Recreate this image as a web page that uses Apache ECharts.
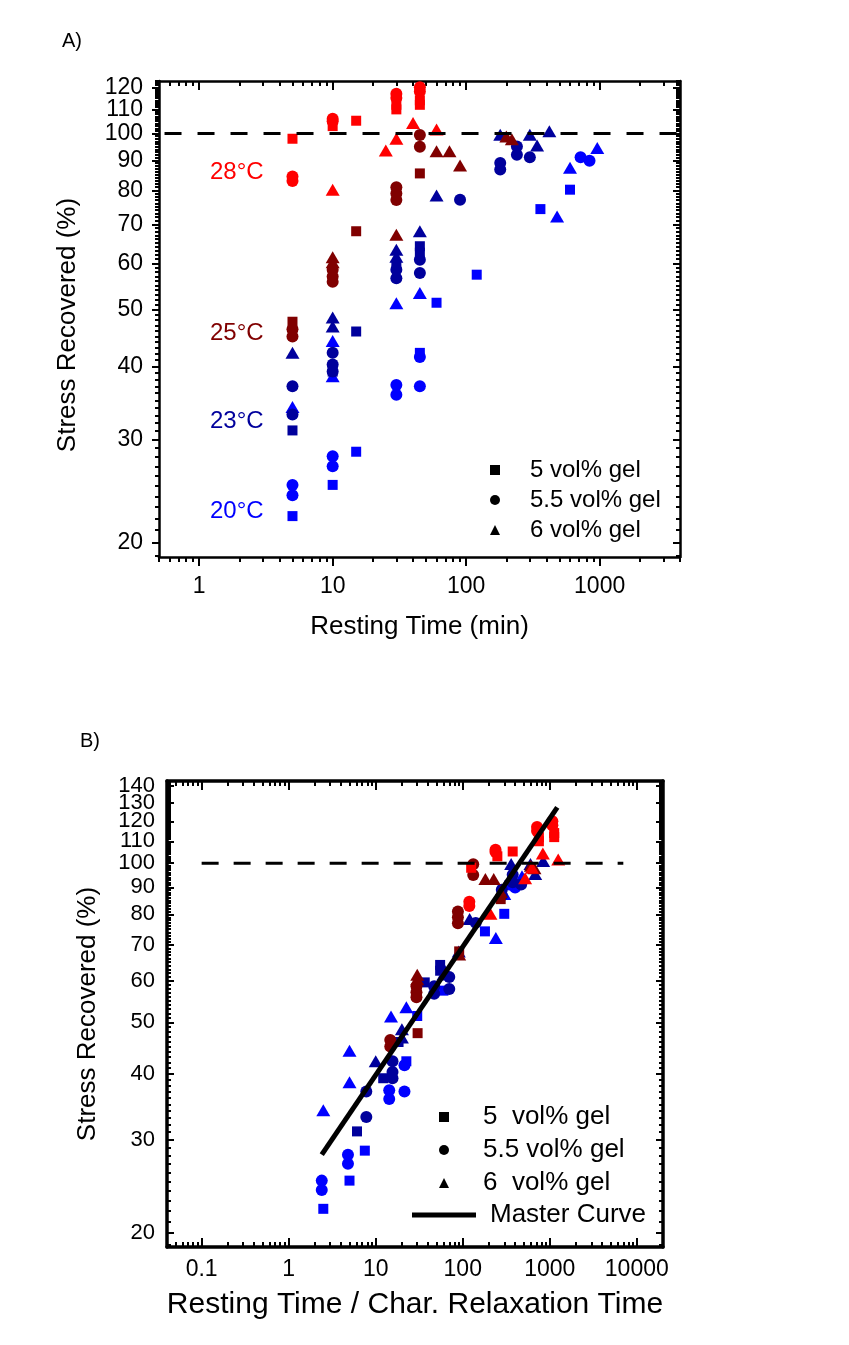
<!DOCTYPE html>
<html>
<head>
<meta charset="utf-8">
<script src="https://cdn.jsdelivr.net/npm/echarts@6/dist/echarts.min.js"></script>
<style>
html, body { margin: 0; padding: 0; background: #fff; }
#main { width: 849px; height: 1345px; }
</style>
</head>
<body>
<div id="main"></div>
<script>
// t = resting time (min), v = stress recovered (%), r = resting time / char. relaxation time
// 20 °C
var t20Sq = [5, 10, 15, 45, 60, 120, 360, 600];
var v20Sq = [22.2, 25.1, 28.6, 42.2, 51.4, 57.4, 74.3, 80.2];
var r20Sq = [2.5, 5, 7.5, 22.5, 30, 60, 180, 300];
var t20Ci = [5, 5, 10, 10, 30, 30, 45, 45, 720, 840];
var v20Ci = [25.1, 24.1, 28.1, 27.0, 37.2, 35.8, 41.5, 37.0, 91.1, 89.9];
var r20Ci = [2.4, 2.4, 4.8, 4.8, 14.3, 14.3, 21.4, 21.4, 343, 400];
var t20Tr = [5, 10, 10, 30, 45, 480, 600, 960];
var v20Tr = [34.1, 44.2, 38.5, 51.3, 53.4, 72.2, 87.4, 94.5];
var r20Tr = [2.5, 5, 5, 15, 22.5, 240, 300, 480];
// 23 °C
var t23Sq = [5, 10, 15, 30, 45, 45];
var v23Sq = [31.1, 39.2, 45.9, 59.5, 64.2, 62.6];
var r23Sq = [6.1, 12.2, 18.3, 36.6, 55, 55];
var t23Ci = [5, 5, 10, 10, 10, 30, 30, 45, 45, 90, 180, 180, 240, 240, 300];
var v23Ci = [37.0, 33.1, 42.2, 40.3, 39.2, 58.5, 56.6, 60.9, 57.8, 77.1, 89.1, 86.8, 95.1, 92.0, 91.1];
var r23Ci = [7.8, 7.8, 15.6, 15.6, 15.6, 47, 47, 70, 70, 141, 281, 281, 375, 375, 469];
var t23Tr = [5, 10, 10, 30, 30, 45, 60, 180, 300, 340, 420];
var v23Tr = [42.2, 48.5, 46.8, 63.3, 61.6, 68.1, 78.4, 99.6, 99.6, 95.4, 100.9];
var r23Tr = [10, 20, 20, 60, 60, 90, 120, 360, 600, 680, 840];
// 25 °C
var t25Sq = [5, 15, 45];
var v25Sq = [47.7, 68.1, 85.5];
var r25Sq = [30.3, 91, 273];
var t25Ci = [5, 5, 10, 10, 10, 30, 30, 30, 45, 45];
var v25Ci = [46.3, 45.0, 58.5, 57.0, 55.8, 81.0, 79.0, 77.0, 99.5, 95.0];
var r25Ci = [14.7, 14.7, 29.4, 29.4, 29.4, 88, 88, 88, 132, 132];
var t25Tr = [10, 10, 30, 60, 75, 90, 200, 220];
var v25Tr = [61.5, 60.3, 67.2, 93.3, 93.3, 88.2, 98.9, 97.8];
var r25Tr = [30, 30, 91, 182, 227, 273, 606, 667];
// 28 °C
var t28Sq = [5, 10, 15, 30, 30, 45, 45];
var v28Sq = [98.0, 103.0, 105.2, 112.0, 110.0, 114.0, 112.0];
var r28Sq = [125, 250, 375, 750, 750, 1125, 1125];
var t28Ci = [5, 5, 10, 10, 30, 30, 45, 45];
var v28Ci = [84.5, 83.0, 106.0, 105.0, 117.0, 115.0, 120.0, 118.0];
var r28Ci = [119, 119, 238, 238, 714, 714, 1071, 1071];
var t28Tr = [10, 25, 30, 40, 60];
var v28Tr = [80.2, 93.6, 98.0, 104.3, 101.6];
var r28Tr = [208, 521, 625, 833, 1250];

// master curve and 100 % reference
var masterX = [2.4, 1220];
var masterY = [28.1, 127.5];
var refXA = [0.55, 4000];
var refXB = [0.1, 7000];
var refY = [100, 100];

// tick labels
var xTickA = [1, 10, 100, 1000];
var yTickA = [20, 30, 40, 50, 60, 70, 80, 90, 100, 110, 120];
var xTickB = [0.1, 1, 10, 100, 1000, 10000];
var yTickB = [20, 30, 40, 50, 60, 70, 80, 90, 100, 110, 120, 130, 140];

var legendA = ['5 vol% gel', '5.5 vol% gel', '6 vol% gel'];
var legendB = ['5  vol% gel', '5.5 vol% gel ', '6  vol% gel'];

var FONT = 'Liberation Sans, Arial, sans-serif';
var RED = '#ff0000', MAROON = '#800000', NAVY = '#00009c', BLUE = '#0000ff';

function logMinor(lo, hi) {
    var out = [];
    for (var e = -3; e <= 5; e++) {
        for (var m = 2; m <= 9; m++) {
            var v = +(m * Math.pow(10, e)).toPrecision(6);
            if (v >= lo && v <= hi) out.push(v);
        }
    }
    return out;
}
function unitMinor(lo, hi) {
    var out = [];
    for (var v = Math.ceil(lo); v <= hi; v++) {
        if (v % 10 !== 0) out.push(v);
    }
    return out;
}
function fmt(v) { return String(+(+v).toPrecision(6)); }

// four overlaid axes per side pair: main (labels), main minor, mirror, mirror minor
// labels listed in s.split go on the minor axis so the crowded top labels are not dropped
function axes(grid, lo, hi, major, minor, s) {
    var pos = s.dim === 'x' ? ['bottom', 'top'] : ['left', 'right'];
    var split = s.split || [];
    var mainLabels = major.filter(function (v) { return split.indexOf(v) < 0; });
    function label(values) {
        return { show: true, customValues: values, margin: s.margin, color: '#000',
                 showMinLabel: true, showMaxLabel: true, hideOverlap: false,
                 fontSize: s.fontSize, fontFamily: FONT, formatter: fmt };
    }
    function one(p, isMain, ticks, len, inside, labels, withName) {
        var a = {
            type: 'log', logBase: 10, gridIndex: grid, position: p, offset: 0,
            min: lo, max: hi, silent: true,
            axisLine: { show: isMain, onZero: false, lineStyle: { color: '#000', width: s.lineW } },
            axisTick: { show: true, inside: inside, length: len, customValues: ticks,
                        lineStyle: { color: '#000', width: s.tickW } },
            axisLabel: labels && labels.length ? label(labels) : { show: false },
            splitLine: { show: false },
            minorTick: { show: false },
            minorSplitLine: { show: false },
            axisPointer: { show: false }
        };
        if (withName) {
            a.name = s.name;
            a.nameLocation = 'middle';
            a.nameGap = s.nameGap;
            a.nameTextStyle = { color: '#000', fontSize: s.nameSize, fontFamily: FONT,
                                padding: s.namePad || 0 };
        }
        return a;
    }
    return [
        one(pos[0], true, major, s.majorLen, s.inside, mainLabels, true),
        one(pos[0], false, minor, s.minorLen, s.minorInside, split, false),
        one(pos[1], true, major, s.majorLen, true, null, false),
        one(pos[1], false, minor, s.minorLen, true, null, false)
    ];
}

var xAxes = [].concat(
    axes(0, 0.5, 4000, xTickA, logMinor(0.5, 4000),
        { dim: 'x', lineW: 2.5, tickW: 2, majorLen: 9, minorLen: 5, inside: false, minorInside: false,
          margin: 18, fontSize: 23, name: 'Resting Time (min)', nameGap: 57, nameSize: 26 }),
    axes(1, 0.04, 20000, xTickB, logMinor(0.04, 20000),
        { dim: 'x', lineW: 3.5, tickW: 2, majorLen: 9, minorLen: 5, inside: true, minorInside: true,
          margin: 11, fontSize: 23, name: 'Resting Time / Char. Relaxation Time', nameGap: 43, nameSize: 30 })
);
var yAxes = [].concat(
    axes(0, 18.9, 123, yTickA, unitMinor(18.9, 123),
        { dim: 'y', lineW: 2.5, tickW: 2, majorLen: 7, minorLen: 4, inside: false, minorInside: false,
          margin: 16, fontSize: 23, split: [110], name: 'Stress Recovered (%)', nameGap: 78, nameSize: 26,
          namePad: [0, 12, 0, 0] }),
    axes(1, 18.8, 143, yTickB, unitMinor(18.8, 143),
        { dim: 'y', lineW: 3.5, tickW: 2, majorLen: 7, minorLen: 4, inside: true, minorInside: true,
          margin: 12, fontSize: 22, split: [130], name: 'Stress Recovered (%)', nameGap: 66, nameSize: 26 })
);

function pts(xs, ys) {
    return xs.map(function (x, i) { return [x, ys[i]]; });
}

var groups = [
    { c: BLUE, s: 'rect', t: t20Sq, v: v20Sq, r: r20Sq },
    { c: BLUE, s: 'circle', t: t20Ci, v: v20Ci, r: r20Ci },
    { c: BLUE, s: 'triangle', t: t20Tr, v: v20Tr, r: r20Tr },
    { c: NAVY, s: 'rect', t: t23Sq, v: v23Sq, r: r23Sq },
    { c: NAVY, s: 'circle', t: t23Ci, v: v23Ci, r: r23Ci },
    { c: NAVY, s: 'triangle', t: t23Tr, v: v23Tr, r: r23Tr },
    { c: MAROON, s: 'rect', t: t25Sq, v: v25Sq, r: r25Sq },
    { c: MAROON, s: 'circle', t: t25Ci, v: v25Ci, r: r25Ci },
    { c: MAROON, s: 'triangle', t: t25Tr, v: v25Tr, r: r25Tr },
    { c: RED, s: 'rect', t: t28Sq, v: v28Sq, r: r28Sq },
    { c: RED, s: 'circle', t: t28Ci, v: v28Ci, r: r28Ci },
    { c: RED, s: 'triangle', t: t28Tr, v: v28Tr, r: r28Tr }
];
var symSize = { rect: [10, 10], circle: 12, triangle: [14, 12] };

var series = [];
groups.forEach(function (g) {
    series.push({
        type: 'scatter', xAxisIndex: 0, yAxisIndex: 0, symbol: g.s, symbolSize: symSize[g.s],
        itemStyle: { color: g.c, opacity: 1 }, data: pts(g.t, g.v), silent: true
    });
    series.push({
        type: 'scatter', xAxisIndex: 4, yAxisIndex: 4, symbol: g.s, symbolSize: symSize[g.s],
        itemStyle: { color: g.c, opacity: 1 }, data: pts(g.r, g.v), silent: true
    });
});

// dashed 100 % lines
series.push({
    type: 'line', xAxisIndex: 0, yAxisIndex: 0, symbol: 'none', silent: true, data: pts(refXA, refY),
    lineStyle: { color: '#000', width: 3, type: [17, 16] }
});
series.push({
    type: 'line', xAxisIndex: 4, yAxisIndex: 4, symbol: 'none', silent: true, data: pts(refXB, refY),
    lineStyle: { color: '#000', width: 3, type: [17, 15] }
});
// master curve
series.push({
    name: 'Master Curve', type: 'line', xAxisIndex: 4, yAxisIndex: 4, symbol: 'none', silent: true,
    data: pts(masterX, masterY), lineStyle: { color: '#000', width: 5 }, itemStyle: { color: '#000' }, z: 5
});

// legend-only series (black symbols)
var legSym = ['rect', 'circle', 'triangle'];
legendA.forEach(function (n, i) {
    series.push({ name: n, type: 'scatter', xAxisIndex: 0, yAxisIndex: 0, symbol: legSym[i],
                  itemStyle: { color: '#000', opacity: 1 }, data: [] });
});
legendB.forEach(function (n, i) {
    series.push({ name: n, type: 'scatter', xAxisIndex: 4, yAxisIndex: 4, symbol: legSym[i],
                  itemStyle: { color: '#000', opacity: 1 }, data: [] });
});

function tempLabel(txt, color, top) {
    return { type: 'text', left: 210, top: top,
             style: { text: txt, fill: color, fontSize: 24, fontFamily: FONT } };
}

var chart = echarts.init(document.getElementById('main'), null, { renderer: 'canvas' });
chart.setOption({
    animation: false,
    backgroundColor: '#fff',
    grid: [
        { left: 159, top: 81, width: 521, height: 476, containLabel: false, outerBoundsMode: 'none' },
        { left: 167, top: 781, width: 496, height: 466, containLabel: false, outerBoundsMode: 'none' }
    ],
    xAxis: xAxes,
    yAxis: yAxes,
    legend: [
        { data: legendA, orient: 'vertical', left: 490, top: 458, itemWidth: 10, itemHeight: 10,
          itemGap: 6, selectedMode: false, padding: 0,
          textStyle: { color: '#000', fontSize: 24, fontFamily: FONT, lineHeight: 24, padding: [0, 0, 0, 25] } },
        { data: legendB, orient: 'vertical', left: 439, top: 1104, itemWidth: 10, itemHeight: 10,
          itemGap: 7, selectedMode: false, padding: 0,
          textStyle: { color: '#000', fontSize: 26, fontFamily: FONT, lineHeight: 26, padding: [0, 0, 0, 29] } },
        { data: [{ name: 'Master Curve', icon: 'rect' }], left: 412, top: 1202, itemWidth: 64, itemHeight: 5,
          selectedMode: false, padding: 0,
          textStyle: { color: '#000', fontSize: 26, fontFamily: FONT, lineHeight: 26, padding: [0, 0, 0, 9] } }
    ],
    graphic: [
        { type: 'text', left: 62, top: 31, style: { text: 'A)', fill: '#000', fontSize: 20, fontFamily: FONT } },
        { type: 'text', left: 80, top: 731, style: { text: 'B)', fill: '#000', fontSize: 20, fontFamily: FONT } },
        tempLabel('28°C', RED, 160),
        tempLabel('25°C', MAROON, 321),
        tempLabel('23°C', NAVY, 409),
        tempLabel('20°C', BLUE, 499)
    ],
    series: series
});
</script>
</body>
</html>
